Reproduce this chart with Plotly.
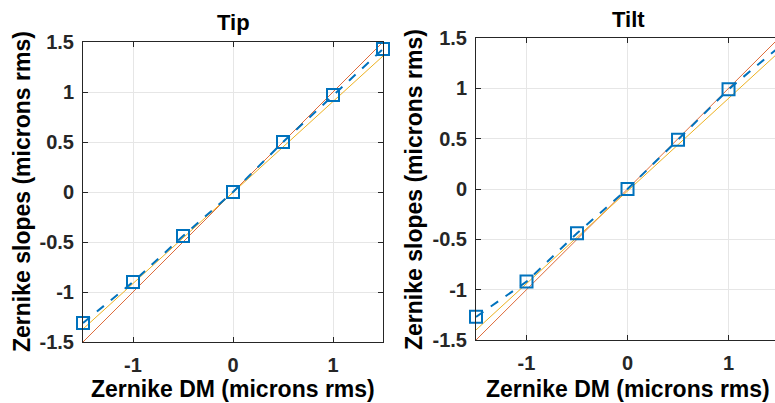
import plotly.graph_objects as go

# ---- data ----
dm_x = [-1.5, -1.0, -0.5, 0.0, 0.5, 1.0, 1.5]
tip_slopes = [-1.31, -0.90, -0.44, 0.00, 0.50, 0.97, 1.43]
tilt_slopes = [-1.27, -0.92, -0.44, 0.00, 0.49, 0.99, 1.41]
ideal_x = [-1.5, 1.5]
ideal_y = [-1.5, 1.5]
tip_fit_y = [-1.37, 1.36]
tilt_fit_y = [-1.40, 1.36]
tick_vals = [-1.5, -1, -0.5, 0, 0.5, 1, 1.5]
tick_text = ["-1.5", "-1", "-0.5", "0", "0.5", "1", "1.5"]
xtick_vals = [-1, 0, 1]
xtick_text = ["-1", "0", "1"]
titles = ["Tip", "Tilt"]
xlabel = "Zernike DM (microns rms)"
ylabel = "Zernike slopes (microns rms)"

W, H = 775, 403
BLUE, RED, YEL = "#0072BD", "#D95319", "#EDB120"
FONT = "Liberation Sans, Arial, sans-serif"

def px(x):
    return x / W

def py(y):
    return 1 - y / H

fig = go.Figure()

panels = [
    dict(xa="x", ya="y", s=tip_slopes, fit=tip_fit_y),
    dict(xa="x2", ya="y2", s=tilt_slopes, fit=tilt_fit_y),
]
for p in panels:
    fig.add_trace(go.Scatter(x=ideal_x, y=ideal_y, mode="lines",
                             line=dict(color=RED, width=1), opacity=0.85,
                             xaxis=p["xa"], yaxis=p["ya"], showlegend=False))
    fig.add_trace(go.Scatter(x=ideal_x, y=p["fit"], mode="lines",
                             line=dict(color=YEL, width=1),
                             xaxis=p["xa"], yaxis=p["ya"], showlegend=False))
    fig.add_trace(go.Scatter(x=dm_x, y=p["s"], mode="lines+markers",
                             line=dict(color=BLUE, width=2, dash="dash"),
                             marker=dict(symbol="square-open", size=12,
                                         color=BLUE, line=dict(width=2, color=BLUE)),
                             cliponaxis=False,
                             xaxis=p["xa"], yaxis=p["ya"], showlegend=False))

tickfont = dict(family=FONT, size=20, color="#262626", weight="bold")
common_x = dict(tickvals=xtick_vals, ticktext=xtick_text, ticks="inside", ticklen=5,
                tickcolor="#262626", showline=True, linecolor="#262626", linewidth=1,
                mirror="ticks", showgrid=True, gridcolor="#E6E6E6", gridwidth=1,
                zeroline=False, tickfont=tickfont, ticklabelstandoff=5,
                automargin=False)
common_y = dict(tickvals=tick_vals, ticktext=tick_text, ticks="inside", ticklen=5,
                tickcolor="#262626", showline=True, linecolor="#262626", linewidth=1,
                showgrid=True, gridcolor="#E6E6E6", gridwidth=1,
                zeroline=False, tickfont=tickfont, ticklabelstandoff=4,
                range=[-1.5, 1.5], automargin=False)

fig.update_layout(
    width=W, height=H,
    margin=dict(l=0, r=0, t=0, b=0, pad=0, autoexpand=False),
    paper_bgcolor="white", plot_bgcolor="white",
    xaxis=dict(common_x, domain=[px(83), px(383)], range=[-1.5, 1.5], anchor="y"),
    yaxis=dict(common_y, domain=[py(342), py(42)], anchor="x", mirror="ticks"),
    xaxis2=dict(common_x, domain=[px(476), 1.0], range=[-1.5, 1.46], anchor="y2"),
    yaxis2=dict(common_y, domain=[py(340), py(38)], anchor="x2", mirror=False),
)

afont_t = dict(family=FONT, size=22, color="black", weight="bold")
afont_l = dict(family=FONT, size=23, color="black", weight="bold")
annots = [
    dict(text=titles[0], x=px(233), y=py(23), yanchor="middle", font=afont_t),
    dict(text=titles[1], x=px(628), y=py(19), yanchor="middle", font=afont_t),
    dict(text=xlabel, x=px(233), y=0, yanchor="bottom", font=afont_l),
    dict(text=xlabel, x=px(628), y=0, yanchor="bottom", font=afont_l),
    dict(text=ylabel, x=px(22), y=py(192), textangle=-90, yanchor="middle", font=afont_l),
    dict(text=ylabel, x=px(414), y=py(190), textangle=-90, yanchor="middle", font=afont_l),
]
for a in annots:
    fig.add_annotation(xref="paper", yref="paper", showarrow=False,
                       xanchor="center", borderpad=0, **a)

fig.write_html("out.html")
